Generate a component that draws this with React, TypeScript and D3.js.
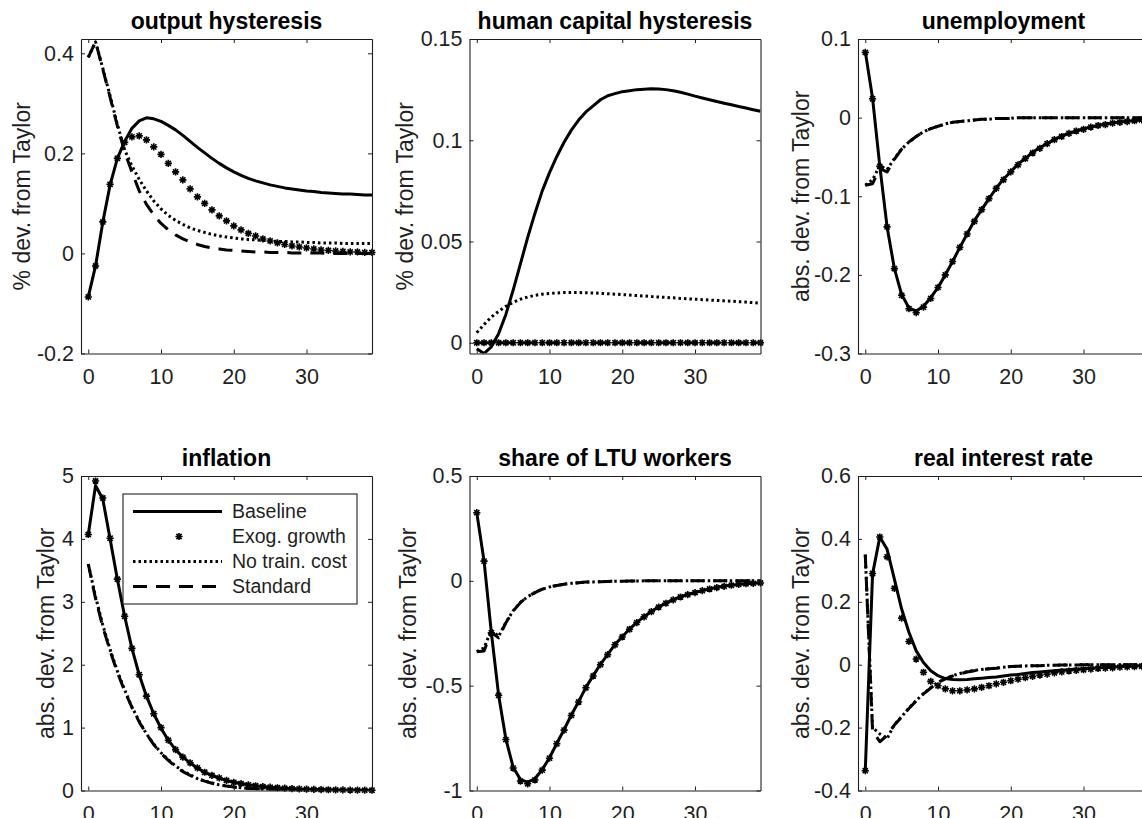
import React, { useEffect, useRef } from 'react';
import * as d3 from 'd3';

const W = 1142;
const H = 818;
const FONT = '"Liberation Sans", Arial, Helvetica, sans-serif';
const INK = '#1f1f1f';

// horizon (quarters after the shock)
const periods = [0, 1, 2, 3, 4, 5, 6, 7, 8, 9, 10, 11, 12, 13, 14, 15, 16, 17, 18, 19,
  20, 21, 22, 23, 24, 25, 26, 27, 28, 29, 30, 31, 32, 33, 34, 35, 36, 37, 38, 39];
const xTicks = [0, 10, 20, 30];

const seriesNames = ['Baseline', 'Exog. growth', 'No train. cost', 'Standard'];

// output hysteresis
const outBase = [-0.087, -0.025, 0.063, 0.137, 0.19, 0.224, 0.25, 0.265, 0.271, 0.269, 0.264, 0.256, 0.247, 0.236, 0.224, 0.212, 0.201, 0.19, 0.18, 0.171,
  0.163, 0.156, 0.15, 0.145, 0.141, 0.137, 0.134, 0.131, 0.129, 0.127, 0.125, 0.124, 0.122, 0.121, 0.12, 0.119, 0.119, 0.118, 0.117, 0.117];
const outExog = [-0.087, -0.025, 0.063, 0.138, 0.19, 0.222, 0.233, 0.235, 0.227, 0.213, 0.198, 0.18, 0.163, 0.147, 0.129, 0.113, 0.1, 0.087, 0.075, 0.065,
  0.055, 0.047, 0.04, 0.035, 0.029, 0.025, 0.021, 0.018, 0.015, 0.013, 0.011, 0.009, 0.007, 0.006, 0.005, 0.004, 0.003, 0.003, 0.002, 0.002];
const outNoTrain = [0.392, 0.423, 0.37, 0.315, 0.258, 0.207, 0.175, 0.148, 0.125, 0.105, 0.089, 0.076, 0.066, 0.058, 0.051, 0.046, 0.042, 0.038, 0.035, 0.033,
  0.031, 0.029, 0.028, 0.027, 0.026, 0.025, 0.024, 0.024, 0.023, 0.023, 0.022, 0.022, 0.021, 0.021, 0.021, 0.02, 0.02, 0.02, 0.02, 0.02];
const outStandard = [0.392, 0.423, 0.368, 0.312, 0.255, 0.203, 0.163, 0.125, 0.098, 0.077, 0.06, 0.047, 0.037, 0.029, 0.023, 0.018, 0.014, 0.011, 0.009, 0.007,
  0.006, 0.005, 0.004, 0.003, 0.003, 0.002, 0.002, 0.002, 0.001, 0.001, 0.001, 0.001, 0.001, 0, 0, 0, 0, 0, 0, 0];

// human capital hysteresis
const hcBase = [-0.003, -0.0053, -0.002, 0.0045, 0.014, 0.026, 0.039, 0.052, 0.064, 0.075, 0.084, 0.092, 0.099, 0.105, 0.11, 0.114, 0.117, 0.12, 0.122, 0.123,
  0.124, 0.1245, 0.125, 0.1252, 0.1254, 0.1253, 0.125, 0.1244, 0.1237, 0.1228, 0.1218, 0.1209, 0.12, 0.1191, 0.1183, 0.1175, 0.1167, 0.1159, 0.1151, 0.1143];
const hcExog = [0, 0, 0, 0, 0, 0, 0, 0, 0, 0, 0, 0, 0, 0, 0, 0, 0, 0, 0, 0,
  0, 0, 0, 0, 0, 0, 0, 0, 0, 0, 0, 0, 0, 0, 0, 0, 0, 0, 0, 0];
const hcNoTrain = [0.005, 0.009, 0.0127, 0.0155, 0.018, 0.02, 0.0215, 0.0226, 0.0234, 0.024, 0.0243, 0.0246, 0.0248, 0.0248, 0.0248, 0.0247, 0.0246, 0.0244, 0.0242, 0.024,
  0.0238, 0.0236, 0.0233, 0.0231, 0.0228, 0.0226, 0.0224, 0.0222, 0.0219, 0.0217, 0.0215, 0.0213, 0.0211, 0.0209, 0.0207, 0.0205, 0.0203, 0.0201, 0.0198, 0.0196];
const hcStandard = [0, 0, 0, 0, 0, 0, 0, 0, 0, 0, 0, 0, 0, 0, 0, 0, 0, 0, 0, 0,
  0, 0, 0, 0, 0, 0, 0, 0, 0, 0, 0, 0, 0, 0, 0, 0, 0, 0, 0, 0];

// unemployment
const unBase = [0.084, 0.025, -0.062, -0.139, -0.192, -0.225, -0.242, -0.246, -0.24, -0.229, -0.216, -0.2, -0.183, -0.165, -0.148, -0.131, -0.117, -0.103, -0.09, -0.078,
  -0.069, -0.059, -0.052, -0.044, -0.038, -0.033, -0.028, -0.023, -0.02, -0.017, -0.014, -0.012, -0.01, -0.008, -0.0068, -0.0055, -0.0047, -0.0038, -0.0034, -0.003];
const unExog = [0.083, 0.024, -0.062, -0.139, -0.192, -0.226, -0.243, -0.248, -0.241, -0.23, -0.216, -0.2, -0.183, -0.165, -0.148, -0.132, -0.117, -0.103, -0.09, -0.079,
  -0.069, -0.06, -0.052, -0.045, -0.039, -0.033, -0.028, -0.024, -0.02, -0.017, -0.015, -0.012, -0.01, -0.009, -0.007, -0.006, -0.005, -0.004, -0.003, -0.003];
const unNoTrain = [-0.086, -0.079, -0.061, -0.066, -0.052, -0.04, -0.031, -0.024, -0.018, -0.014, -0.011, -0.008, -0.006, -0.005, -0.004, -0.003, -0.002, -0.002, -0.001, -0.001,
  -0.001, 0, 0, 0, 0, 0, 0, 0, 0, 0, 0, 0, 0, 0, 0, 0, 0, 0, 0, 0];
const unStandard = [-0.086, -0.084, -0.065, -0.069, -0.053, -0.04, -0.031, -0.024, -0.018, -0.014, -0.011, -0.008, -0.006, -0.005, -0.004, -0.003, -0.002, -0.002, -0.001, -0.001,
  -0.001, 0, 0, 0, 0, 0, 0, 0, 0, 0, 0, 0, 0, 0, 0, 0, 0, 0, 0, 0];

// inflation
const inBase = [4.07, 4.85, 4.63, 4.0, 3.36, 2.77, 2.26, 1.84, 1.5, 1.22, 0.99, 0.8, 0.65, 0.53, 0.44, 0.355, 0.29, 0.24, 0.196, 0.16,
  0.13, 0.11, 0.09, 0.074, 0.063, 0.053, 0.044, 0.037, 0.03, 0.025, 0.021, 0.017, 0.014, 0.012, 0.01, 0.008, 0.007, 0.006, 0.005, 0.004];
const inExog = [4.07, 4.92, 4.65, 4.01, 3.36, 2.77, 2.26, 1.84, 1.5, 1.22, 1.0, 0.8, 0.65, 0.53, 0.44, 0.36, 0.29, 0.24, 0.2, 0.16,
  0.13, 0.11, 0.09, 0.075, 0.063, 0.053, 0.044, 0.037, 0.031, 0.026, 0.021, 0.018, 0.015, 0.012, 0.01, 0.009, 0.007, 0.006, 0.005, 0.004];
const inNoTrain = [3.6, 3.08, 2.63, 2.24, 1.9, 1.6, 1.33, 1.1, 0.9, 0.74, 0.6, 0.49, 0.39, 0.31, 0.25, 0.19, 0.15, 0.12, 0.09, 0.07,
  0.055, 0.043, 0.034, 0.027, 0.021, 0.016, 0.013, 0.01, 0.008, 0.006, 0.005, 0.004, 0.003, 0.002, 0.002, 0.001, 0.001, 0.001, 0.001, 0];
const inStandard = [3.6, 3.05, 2.6, 2.22, 1.88, 1.58, 1.32, 1.09, 0.9, 0.73, 0.59, 0.48, 0.38, 0.3, 0.24, 0.19, 0.15, 0.115, 0.09, 0.07,
  0.054, 0.042, 0.033, 0.026, 0.02, 0.016, 0.012, 0.009, 0.007, 0.005, 0.004, 0.003, 0.002, 0.002, 0.001, 0.001, 0.001, 0.001, 0, 0];

// share of LTU workers
const ltBase = [0.325, 0.095, -0.246, -0.544, -0.754, -0.889, -0.948, -0.96, -0.944, -0.9, -0.844, -0.775, -0.71, -0.64, -0.576, -0.508, -0.452, -0.398, -0.351, -0.303,
  -0.267, -0.23, -0.198, -0.171, -0.146, -0.124, -0.106, -0.09, -0.076, -0.065, -0.056, -0.046, -0.038, -0.032, -0.025, -0.021, -0.017, -0.014, -0.011, -0.01];
const ltExog = [0.325, 0.094, -0.248, -0.546, -0.757, -0.893, -0.955, -0.968, -0.95, -0.903, -0.846, -0.777, -0.712, -0.642, -0.578, -0.51, -0.454, -0.4, -0.352, -0.305,
  -0.268, -0.231, -0.199, -0.172, -0.147, -0.125, -0.107, -0.091, -0.077, -0.066, -0.056, -0.047, -0.039, -0.032, -0.026, -0.021, -0.017, -0.014, -0.012, -0.01];
const ltNoTrain = [-0.338, -0.32, -0.235, -0.265, -0.198, -0.143, -0.103, -0.075, -0.056, -0.04, -0.029, -0.022, -0.016, -0.012, -0.009, -0.006, -0.005, -0.004, -0.003, -0.002,
  -0.002, -0.001, -0.001, 0, 0, 0, 0, 0, 0, 0, 0, 0, 0, 0, 0, 0, 0, 0, 0, 0];
const ltStandard = [-0.338, -0.335, -0.245, -0.272, -0.2, -0.144, -0.104, -0.075, -0.056, -0.04, -0.029, -0.022, -0.016, -0.012, -0.009, -0.006, -0.005, -0.004, -0.003, -0.002,
  -0.002, -0.001, -0.001, 0, 0, 0, 0, 0, 0, 0, 0, 0, 0, 0, 0, 0, 0, 0, 0, 0];

// real interest rate
const rrBase = [-0.337, 0.288, 0.406, 0.367, 0.272, 0.177, 0.103, 0.044, 0.007, -0.019, -0.035, -0.044, -0.047, -0.048, -0.047, -0.045, -0.043, -0.041, -0.039, -0.036,
  -0.033, -0.031, -0.028, -0.025, -0.023, -0.021, -0.019, -0.017, -0.016, -0.014, -0.013, -0.011, -0.01, -0.009, -0.007, -0.006, -0.005, -0.004, -0.003, -0.002];
const rrExog = [-0.337, 0.29, 0.406, 0.343, 0.243, 0.148, 0.074, 0.018, -0.024, -0.053, -0.067, -0.077, -0.083, -0.083, -0.08, -0.077, -0.072, -0.067, -0.061, -0.056,
  -0.051, -0.046, -0.041, -0.037, -0.033, -0.03, -0.026, -0.023, -0.02, -0.018, -0.016, -0.014, -0.012, -0.011, -0.01, -0.008, -0.007, -0.006, -0.005, -0.004];
const rrNoTrain = [0.35, -0.2, -0.22, -0.235, -0.19, -0.165, -0.138, -0.114, -0.092, -0.073, -0.056, -0.044, -0.035, -0.028, -0.022, -0.018, -0.015, -0.013, -0.011, -0.008,
  -0.006, -0.005, -0.004, -0.003, -0.003, -0.002, -0.002, -0.001, -0.001, -0.001, 0, 0, 0, 0, 0, 0, 0, 0, 0, 0];
const rrStandard = [0.35, -0.21, -0.245, -0.225, -0.192, -0.166, -0.139, -0.115, -0.093, -0.074, -0.057, -0.045, -0.036, -0.029, -0.023, -0.019, -0.015, -0.013, -0.011, -0.008,
  -0.006, -0.005, -0.004, -0.003, -0.003, -0.002, -0.002, -0.001, -0.001, -0.001, 0, 0, 0, 0, 0, 0, 0, 0, 0, 0];

// y ticks and limits
const ticksOutput = [-0.2, 0, 0.2, 0.4];
const ticksHc = [0, 0.05, 0.1, 0.15];
const ticksUnemp = [-0.3, -0.2, -0.1, 0, 0.1];
const ticksInfl = [0, 1, 2, 3, 4, 5];
const ticksLtu = [-1, -0.5, 0, 0.5];
const ticksRate = [-0.4, -0.2, 0, 0.2, 0.4, 0.6];

const panels = [
  { title: 'output hysteresis', ylabel: '% dev. from Taylor', yDomain: [-0.2, 0.4286], yTicks: ticksOutput, series: [outBase, outExog, outNoTrain, outStandard] },
  { title: 'human capital hysteresis', ylabel: '% dev. from Taylor', yDomain: [-0.0053, 0.15], yTicks: ticksHc, series: [hcBase, hcExog, hcNoTrain, hcStandard] },
  { title: 'unemployment', ylabel: 'abs. dev. from Taylor', yDomain: [-0.3, 0.1], yTicks: ticksUnemp, series: [unBase, unExog, unNoTrain, unStandard] },
  { title: 'inflation', ylabel: 'abs. dev. from Taylor', yDomain: [0, 5], yTicks: ticksInfl, series: [inBase, inExog, inNoTrain, inStandard] },
  { title: 'share of LTU workers', ylabel: 'abs. dev. from Taylor', yDomain: [-1, 0.5], yTicks: ticksLtu, series: [ltBase, ltExog, ltNoTrain, ltStandard] },
  { title: 'real interest rate', ylabel: 'abs. dev. from Taylor', yDomain: [-0.4, 0.6], yTicks: ticksRate, series: [rrBase, rrExog, rrNoTrain, rrStandard] },
];

// layout
const colLeft = [81, 469.5, 858];
const rowTop = [39, 476];
const plotW = 291;
const plotH = 314.5;
const labelGap = [51, 57, 49, 27, 54, 49];

const styles = [
  { dash: null, marker: false },
  { dash: null, marker: true },
  { dash: '2.5 3', marker: false },
  { dash: '14 9', marker: false },
];

const star = (r: number) => {
  const a = r * 0.72;
  return `M${-r},0H${r}M0,${-r}V${r}M${-a},${-a}L${a},${a}M${-a},${a}L${a},${-a}`;
};

function Panel({ p, idx }: { p: any; idx: number }) {
  const left = colLeft[idx % 3];
  const top = rowTop[Math.floor(idx / 3)];
  const x = d3.scaleLinear().domain([-1, 39]).range([left, left + plotW]);
  const y = d3.scaleLinear().domain(p.yDomain).range([top + plotH, top]);
  const line = d3.line<number>().x((_, i) => x(periods[i])).y((d) => y(d));

  const bRef = useRef<SVGGElement>(null);
  const tRef = useRef<SVGGElement>(null);
  const lRef = useRef<SVGGElement>(null);
  const rRef = useRef<SVGGElement>(null);

  useEffect(() => {
    const fmt = (d: any) => String(d);
    d3.select(bRef.current).call(d3.axisBottom(x).tickValues(xTicks).tickSizeInner(-4).tickSizeOuter(0).tickPadding(15).tickFormat(fmt));
    d3.select(tRef.current).call(d3.axisTop(x).tickValues(xTicks).tickSizeInner(-4).tickSizeOuter(0).tickFormat(() => ''));
    d3.select(lRef.current).call(d3.axisLeft(y).tickValues(p.yTicks).tickSizeInner(-4).tickSizeOuter(0).tickPadding(7).tickFormat(fmt));
    d3.select(rRef.current).call(d3.axisRight(y).tickValues(p.yTicks).tickSizeInner(-4).tickSizeOuter(0).tickFormat(() => ''));
    [bRef, tRef, lRef, rRef].forEach((r) => {
      const g = d3.select(r.current);
      g.attr('font-family', FONT).attr('font-size', 21.5).attr('color', INK);
      g.selectAll('path.domain').attr('stroke-width', 1.1);
    });
  });

  const clipId = `clip${idx}`;
  return (
    <g>
      <defs>
        <clipPath id={clipId}>
          <rect x={left} y={top} width={plotW} height={plotH} />
        </clipPath>
      </defs>
      <rect x={left} y={top} width={plotW} height={plotH} fill="#fff" />
      <g clipPath={`url(#${clipId})`}>
        {p.series.map((s: number[], k: number) =>
          styles[k].marker ? null : (
            <path key={k} d={line(s) || ''} fill="none" stroke="#000" strokeWidth={3}
              strokeDasharray={styles[k].dash || undefined} strokeLinejoin="round" />
          )
        )}
      </g>
      {p.series[1].map((v: number, i: number) => (
        <path key={i} d={star(3.6)} transform={`translate(${x(periods[i])},${y(v)})`} stroke="#000" strokeWidth={1.6} fill="none" />
      ))}
      <g ref={bRef} transform={`translate(0,${top + plotH})`} />
      <g ref={tRef} transform={`translate(0,${top})`} />
      <g ref={lRef} transform={`translate(${left},0)`} />
      <g ref={rRef} transform={`translate(${left + plotW},0)`} />
      <text x={left + plotW / 2} y={top - 10} textAnchor="middle" fontFamily={FONT} fontWeight="bold" fontSize={23} fill="#000">
        {p.title}
      </text>
      <text transform={`translate(${left - labelGap[idx]},${top + plotH / 2}) rotate(-90)`} textAnchor="middle"
        fontFamily={FONT} fontSize={23} fill={INK}>
        {p.ylabel}
      </text>
    </g>
  );
}

function Legend() {
  const lx = 123, ly = 494, lw = 234, lh = 110;
  const rows = d3.scaleBand<number>().domain([0, 1, 2, 3]).range([ly + 5, ly + lh - 5]);
  return (
    <g fontFamily={FONT} fontSize={19.5}>
      <rect x={lx} y={ly} width={lw} height={lh} fill="#fff" stroke={INK} strokeWidth={1.1} />
      {seriesNames.map((name, k) => {
        const cy = (rows(k) || 0) + rows.bandwidth() / 2;
        return (
          <g key={name}>
            {styles[k].marker ? (
              <path d={star(3.6)} transform={`translate(179,${cy})`} stroke="#000" strokeWidth={1.6} fill="none" />
            ) : (
              <line x1={133} x2={222} y1={cy} y2={cy} stroke="#000" strokeWidth={3} strokeDasharray={styles[k].dash || undefined} />
            )}
            <text x={232} y={cy} dy="0.35em" fill={INK}>{name}</text>
          </g>
        );
      })}
    </g>
  );
}

export default function App() {
  return (
    <div style={{ position: 'absolute', left: 0, top: 0, width: W, height: H, overflow: 'hidden', background: '#fff' }}>
      <svg width={W} height={H} viewBox={`0 0 ${W} ${H}`}>
        <rect width={W} height={H} fill="#fff" />
        {panels.map((p, i) => (
          <Panel key={p.title} p={p} idx={i} />
        ))}
        <Legend />
      </svg>
    </div>
  );
}
